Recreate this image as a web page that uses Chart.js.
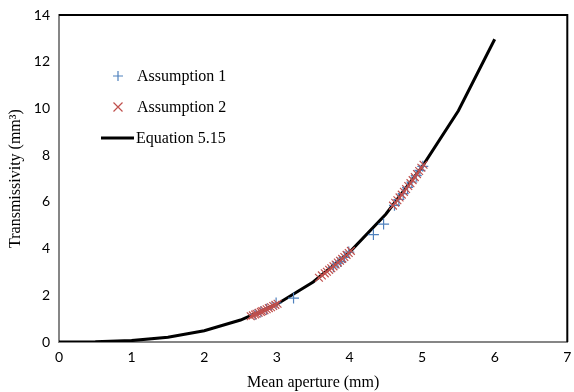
<!DOCTYPE html>
<html>
<head>
<meta charset="utf-8">
<script src="https://cdn.jsdelivr.net/npm/chart.js@4"></script>
<style>
  html, body { margin: 0; padding: 0; background: #fff; }
  #wrap { width: 574px; height: 392px; position: relative; }
</style>
</head>
<body>
<div id="wrap"><canvas id="c" width="574" height="392"></canvas></div>
<script>
// Equation 5.15 curve (mean aperture mm, transmissivity mm^3)
const eqAperture = [0, 0.5, 1, 1.5, 2, 2.5, 3, 3.5, 4, 4.5, 5, 5.5, 6];
const eqTrans    = [0, 0.01, 0.06, 0.2, 0.48, 0.94, 1.62, 2.57, 3.84, 5.47, 7.5, 9.9, 12.96];

// Assumption 1 (blue +)
const a1Aperture = [2.70, 2.78, 2.86, 2.99, 3.23, 3.78, 3.84, 3.88, 3.93, 3.99, 4.33, 4.47, 4.62, 4.68, 4.74, 4.80, 4.86, 4.92, 4.97, 5.01];
const a1Trans    = [1.18, 1.30, 1.40, 1.67, 1.88, 3.22, 3.38, 3.45, 3.62, 3.85, 4.60, 5.05, 5.85, 6.10, 6.35, 6.62, 6.85, 7.12, 7.35, 7.52];

// Assumption 2 (red x)
const a2Aperture = [2.64, 2.67, 2.70, 2.72, 2.75, 2.78, 2.80, 2.83, 2.86, 2.89, 2.92, 2.95, 2.98, 3.01,
                    3.58, 3.62, 3.66, 3.69, 3.72, 3.75, 3.78, 3.81, 3.84, 3.87, 3.90, 3.93, 3.96, 3.99, 4.02,
                    4.60, 4.63, 4.66, 4.69, 4.72, 4.75, 4.78, 4.81, 4.84, 4.87, 4.90, 4.93, 4.96, 4.99, 5.02];
const a2Trans    = [1.10, 1.14, 1.18, 1.21, 1.25, 1.29, 1.32, 1.36, 1.40, 1.45, 1.49, 1.54, 1.59, 1.64,
                    2.75, 2.85, 2.94, 3.01, 3.09, 3.16, 3.24, 3.32, 3.40, 3.48, 3.56, 3.64, 3.73, 3.81, 3.90,
                    5.84, 5.96, 6.07, 6.19, 6.31, 6.43, 6.55, 6.68, 6.80, 6.93, 7.06, 7.19, 7.32, 7.46, 7.59];

const xTicks = [0, 1, 2, 3, 4, 5, 6, 7];
const yTicks = [0, 2, 4, 6, 8, 10, 12, 14];

const seriesNames = ['Assumption 1', 'Assumption 2', 'Equation 5.15'];
const BLUE = '#4F81BD', RED = '#C0504D';

const toXY = (xs, ys) => xs.map((x, i) => ({ x: x, y: ys[i] }));

const frame = {
  id: 'frame',
  afterDraw(chart) {
    const { ctx, chartArea: a } = chart;
    ctx.save();
    // black top and right border
    ctx.strokeStyle = '#000';
    ctx.lineWidth = 2;
    ctx.beginPath();
    ctx.moveTo(a.left, a.top);
    ctx.lineTo(a.right, a.top);
    ctx.lineTo(a.right, a.bottom);
    ctx.stroke();
    // legend inside plot
    const lx = 118, items = [76, 107, 138];
    ctx.font = '16px "Liberation Serif", "Times New Roman", serif';
    ctx.textBaseline = 'middle';
    ctx.fillStyle = '#000';
    // + marker
    ctx.lineWidth = 1.2;
    ctx.strokeStyle = BLUE;
    ctx.beginPath();
    ctx.moveTo(lx - 5, items[0]); ctx.lineTo(lx + 5, items[0]);
    ctx.moveTo(lx, items[0] - 5); ctx.lineTo(lx, items[0] + 5);
    ctx.stroke();
    ctx.fillText(seriesNames[0], 137, items[0] + 1);
    // x marker
    ctx.strokeStyle = RED;
    ctx.beginPath();
    ctx.moveTo(lx - 4.5, items[1] - 4.5); ctx.lineTo(lx + 4.5, items[1] + 4.5);
    ctx.moveTo(lx - 4.5, items[1] + 4.5); ctx.lineTo(lx + 4.5, items[1] - 4.5);
    ctx.stroke();
    ctx.fillText(seriesNames[1], 137, items[1] + 1);
    // line
    ctx.strokeStyle = '#000';
    ctx.lineWidth = 3;
    ctx.beginPath();
    ctx.moveTo(101, items[2]); ctx.lineTo(134, items[2]);
    ctx.stroke();
    ctx.fillText(seriesNames[2], 136, items[2] + 1);
    ctx.restore();
  }
};

new Chart(document.getElementById('c'), {
  type: 'scatter',
  data: {
    datasets: [
      {
        label: seriesNames[0],
        data: toXY(a1Aperture, a1Trans),
        pointStyle: 'cross',
        pointRadius: 5.5,
        pointBorderWidth: 1.2,
        borderColor: BLUE,
        backgroundColor: BLUE,
        order: 2
      },
      {
        label: seriesNames[1],
        data: toXY(a2Aperture, a2Trans),
        pointStyle: 'crossRot',
        pointRadius: 5.5,
        pointBorderWidth: 1.2,
        borderColor: RED,
        backgroundColor: RED,
        order: 1
      },
      {
        label: seriesNames[2],
        data: toXY(eqAperture, eqTrans),
        showLine: true,
        pointRadius: 0,
        borderColor: '#000',
        borderWidth: 3,
        tension: 0,
        order: 3
      }
    ]
  },
  options: {
    responsive: false,
    animation: false,
    devicePixelRatio: 1,
    layout: { padding: { top: 15, right: 5, left: 0, bottom: 0 } },
    plugins: { legend: { display: false }, tooltip: { enabled: false } },
    scales: {
      x: {
        type: 'linear',
        min: 0, max: 7,
        afterBuildTicks: s => { s.ticks = xTicks.map(v => ({ value: v })); },
        afterFit: s => { s.height = 50; },
        grid: { display: false, drawOnChartArea: false, drawTicks: true, tickLength: 5, color: '#868686' },
        border: { display: true, color: '#868686', width: 2 },
        ticks: { color: '#000', font: { family: 'Lato', size: 14 }, padding: 2, maxRotation: 0 },
        title: { display: true, text: 'Mean aperture (mm)', color: '#000',
                 font: { family: '"Liberation Serif", serif', size: 16 }, padding: { top: 0, bottom: 0 } }
      },
      y: {
        type: 'linear',
        min: 0, max: 14,
        afterBuildTicks: s => { s.ticks = yTicks.map(v => ({ value: v })); },
        afterFit: s => { s.width = 59; },
        grid: { display: false, drawOnChartArea: false, drawTicks: true, tickLength: 5, color: '#868686' },
        border: { display: true, color: '#868686', width: 2 },
        ticks: { color: '#000', font: { family: 'Lato', size: 14 }, padding: 4 },
        title: { display: true, text: 'Transmissivity (mm³)', color: '#000',
                 font: { family: '"Liberation Serif", serif', size: 16 }, padding: { top: 6, bottom: 0 } }
      }
    }
  },
  plugins: [frame]
});
</script>
</body>
</html>
